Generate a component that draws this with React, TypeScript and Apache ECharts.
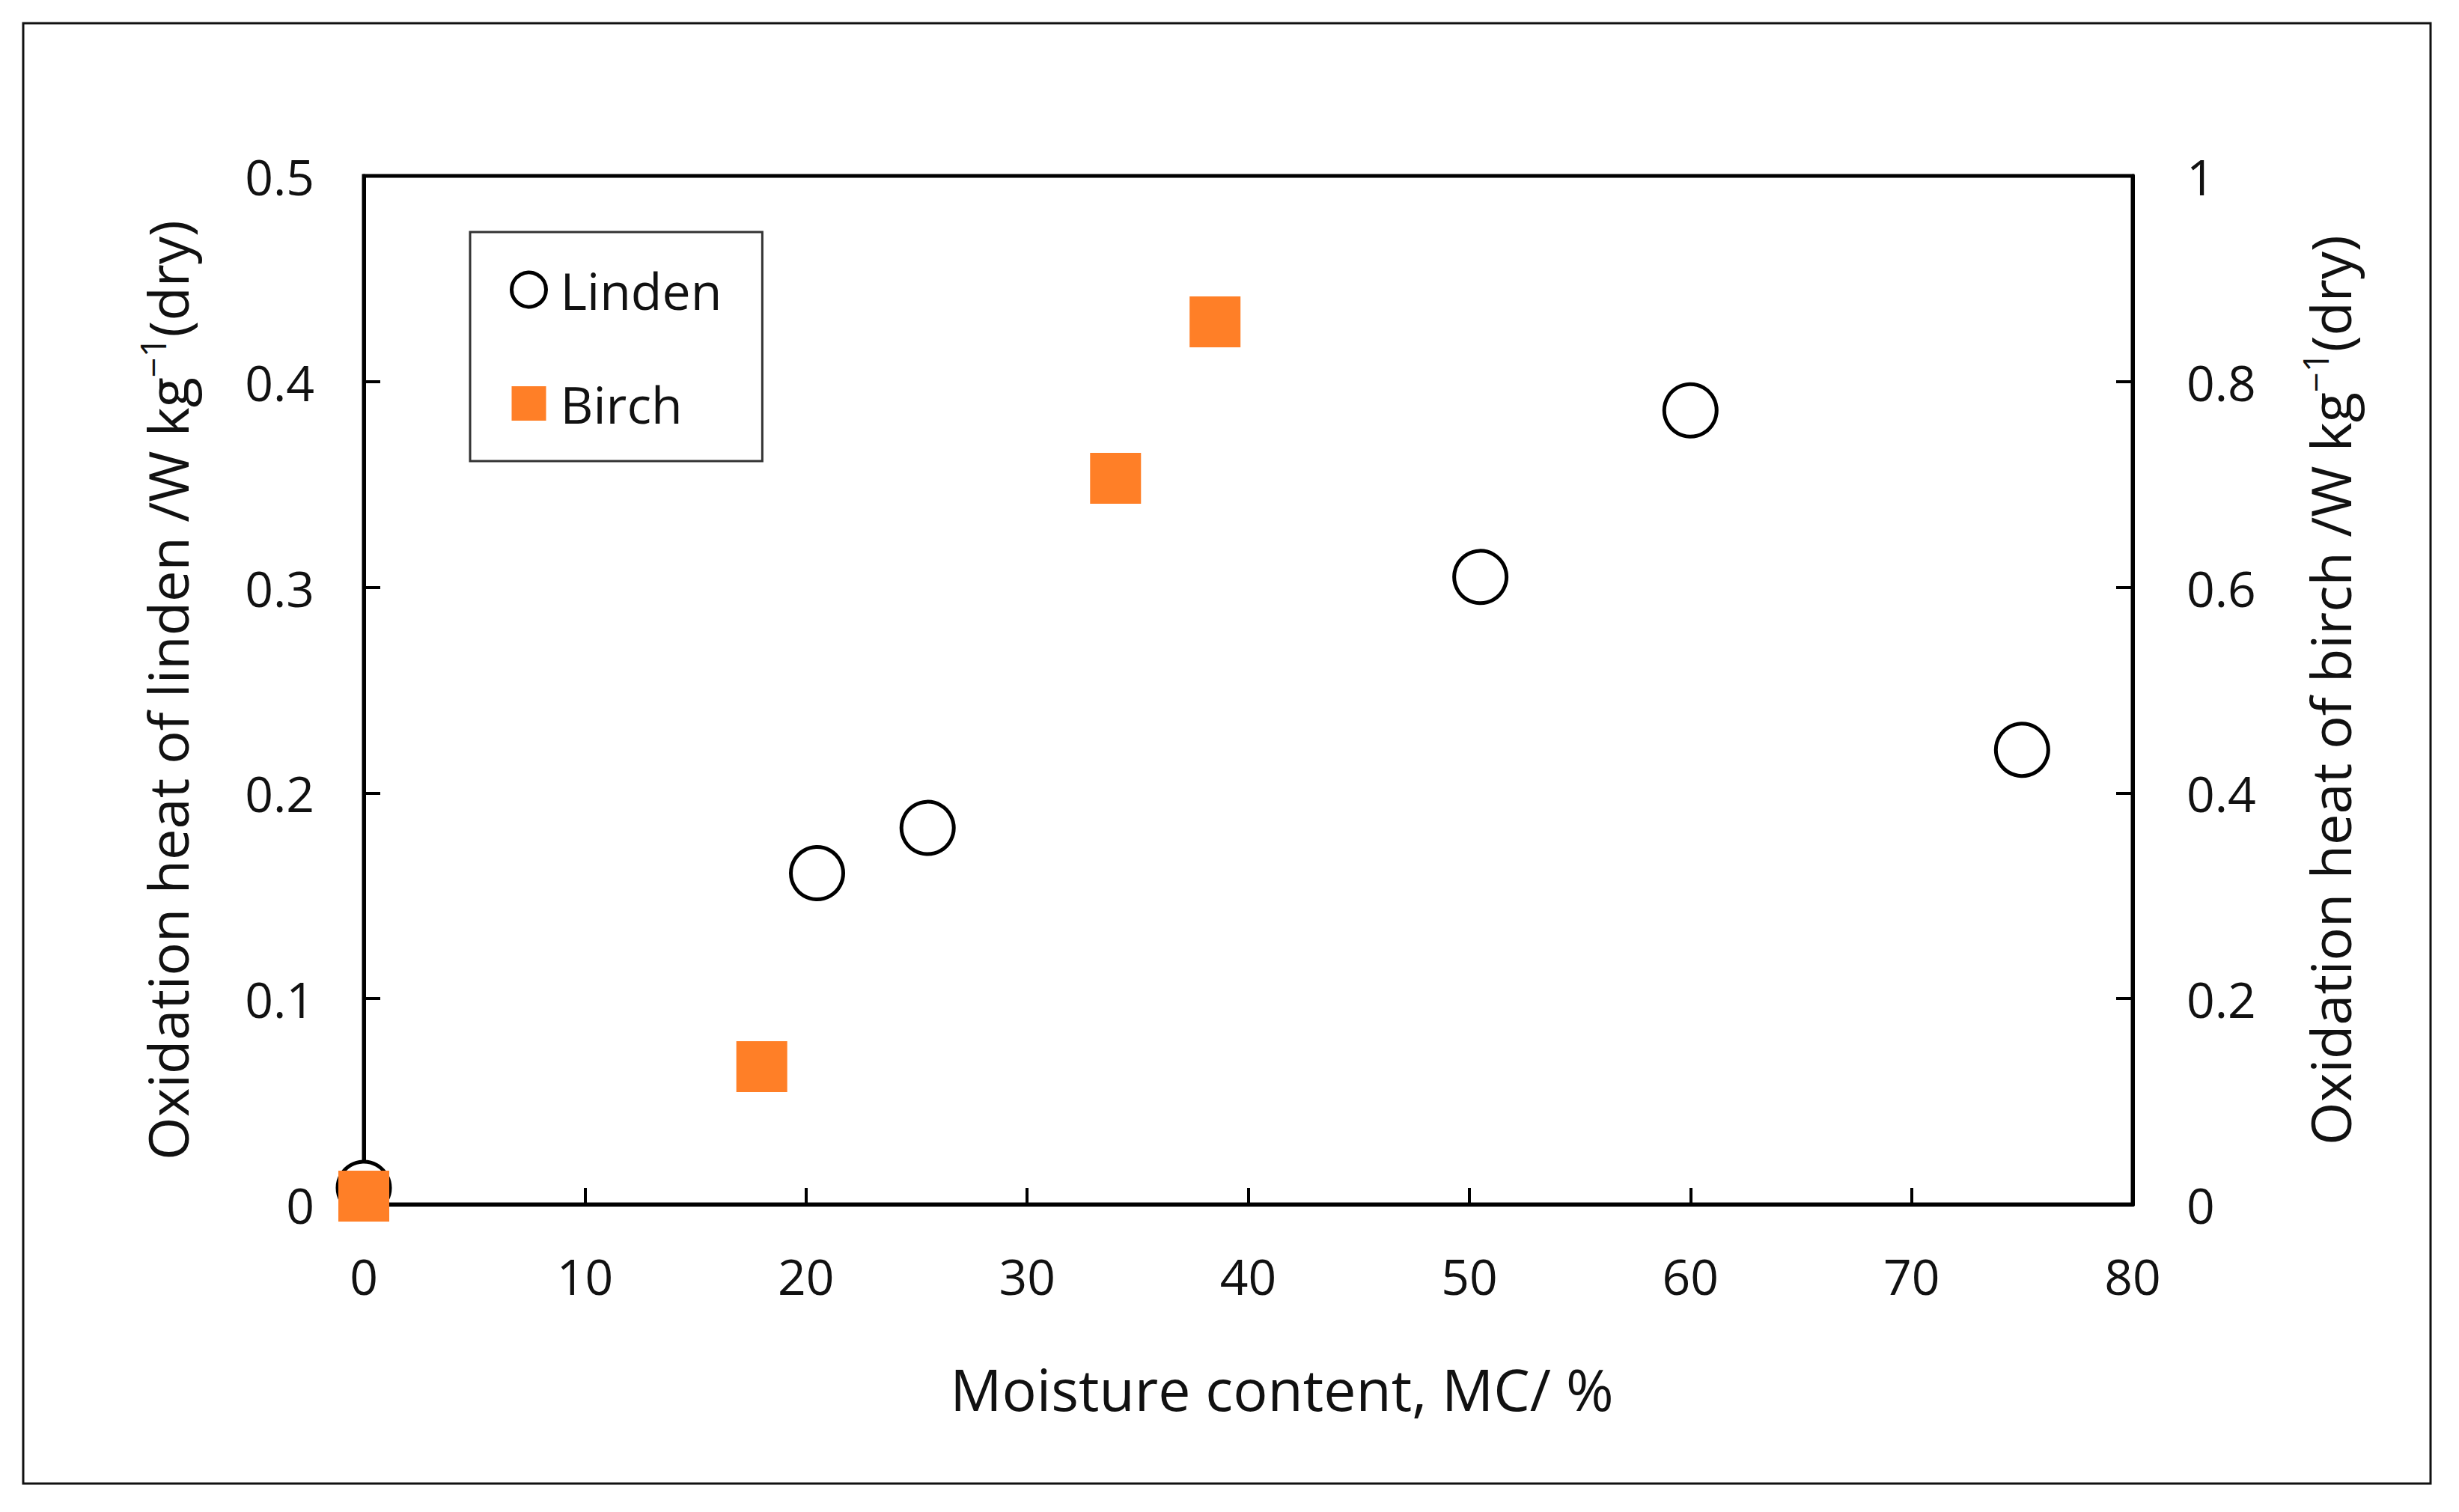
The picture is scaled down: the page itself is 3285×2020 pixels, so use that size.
import React, { useEffect, useRef } from "react";
import * as echarts from "echarts";

const lindenMC = [0, 20.5, 25.5, 50.5, 60, 75];
const lindenHeat = [0.008, 0.161, 0.183, 0.305, 0.386, 0.221];
const birchMC = [0, 18, 34, 38.5];
const birchHeat = [0.008, 0.134, 0.706, 0.858];
const seriesNames = ["Linden", "Birch"];

const FONT = "Open Sans";

export default function App() {
  const ref = useRef<HTMLDivElement>(null);
  useEffect(() => {
    if (!ref.current) return;
    const chart = echarts.init(ref.current, null, { renderer: "svg" });
    const supRich = {
      sup: { fontSize: 47, fontFamily: FONT, color: "#111", verticalAlign: "top", lineHeight: 86 },
    };
    const axisCommon = {
      axisLine: { show: true, lineStyle: { color: "#000", width: 5 } },
      axisTick: { show: true, inside: true, length: 22, lineStyle: { color: "#000", width: 4 } },
      splitLine: { show: false },
    };
    chart.setOption({
      animation: false,
      backgroundColor: "#fff",
      grid: {
        left: 486,
        right: 436,
        top: 235,
        bottom: 411,
        show: true,
        borderColor: "#000",
        borderWidth: 5,
        backgroundColor: "transparent",
      },
      graphic: [
        {
          type: "rect",
          shape: { x: 31, y: 31, width: 3216, height: 1951 },
          style: { fill: "none", stroke: "#111", lineWidth: 3 },
          silent: true,
          z: -1,
        },
      ],
      legend: {
        orient: "vertical",
        left: 628,
        top: 310,
        padding: [42, 54, 42, 53],
        itemGap: 82,
        itemWidth: 46,
        itemHeight: 46,
        borderColor: "#333",
        borderWidth: 3,
        backgroundColor: "#fff",
        textStyle: { fontFamily: FONT, fontSize: 68, color: "#111", lineHeight: 70, padding: [0, 0, 0, 14] },
        data: [
          { name: seriesNames[0], icon: "circle", itemStyle: { color: "#fff", borderColor: "#000", borderWidth: 5 } },
          { name: seriesNames[1], icon: "rect", itemStyle: { color: "#FF7F27", borderWidth: 0 } },
        ],
      },
      xAxis: {
        type: "value",
        min: 0,
        max: 80,
        interval: 10,
        ...axisCommon,
        axisLabel: { fontFamily: FONT, fontSize: 66, color: "#111", margin: 62 },
        name: "Moisture content, MC/ %",
        nameLocation: "middle",
        nameGap: 208,
        nameTextStyle: { fontFamily: FONT, fontSize: 77, color: "#111", padding: [0, 0, 0, 90] },
      },
      yAxis: [
        {
          type: "value",
          min: 0,
          max: 0.5,
          interval: 0.1,
          position: "left",
          ...axisCommon,
          axisLabel: { fontFamily: FONT, fontSize: 66, color: "#111", margin: 66 },
          name: "Oxidation heat of linden /W kg{sup|−1}(dry)",
          nameLocation: "middle",
          nameRotate: 90,
          nameGap: 220,
          nameTextStyle: { fontFamily: FONT, fontSize: 74, color: "#111", lineHeight: 86, rich: supRich },
        },
        {
          type: "value",
          min: 0,
          max: 1,
          interval: 0.2,
          position: "right",
          ...axisCommon,
          axisLabel: { fontFamily: FONT, fontSize: 66, color: "#111", margin: 72 },
          name: "Oxidation heat of birch /W kg{sup|−1}(dry)",
          nameLocation: "middle",
          nameRotate: 90,
          nameGap: 220,
          nameTextStyle: { fontFamily: FONT, fontSize: 74, color: "#111", lineHeight: 86, rich: supRich },
        },
      ],
      series: [
        {
          name: seriesNames[0],
          type: "scatter",
          yAxisIndex: 0,
          symbol: "circle",
          symbolSize: 70,
          clip: false,
          itemStyle: { color: "#fff", borderColor: "#000", borderWidth: 5, opacity: 1 },
          data: lindenMC.map((x, i) => [x, lindenHeat[i]]),
          z: 3,
        },
        {
          name: seriesNames[1],
          type: "scatter",
          yAxisIndex: 1,
          symbol: "rect",
          symbolSize: 68,
          clip: false,
          itemStyle: { color: "#FF7F27", opacity: 1 },
          data: birchMC.map((x, i) => [x, birchHeat[i]]),
          z: 4,
        },
      ],
    });
    return () => chart.dispose();
  }, []);
  return (
    <div
      ref={ref}
      style={{ position: "fixed", left: 0, top: 0, width: 3285, height: 2020, background: "#fff" }}
    />
  );
}
